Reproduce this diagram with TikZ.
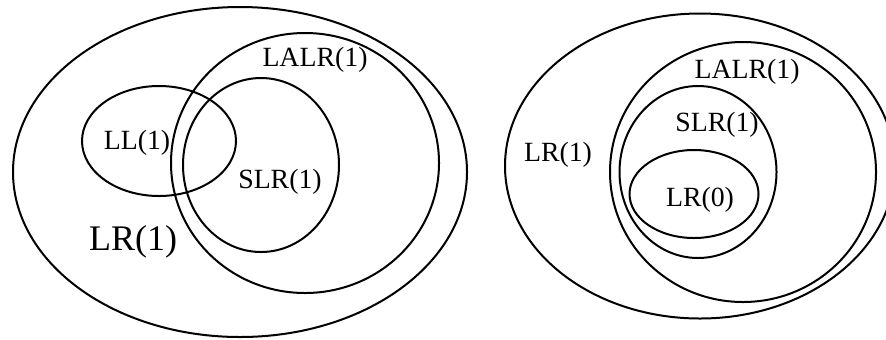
\documentclass[tikz,border=0pt]{standalone}
\usepackage{fontspec}
\setmainfont{Liberation Serif}
\usetikzlibrary{positioning,shapes.geometric}

\begin{document}
\begin{tikzpicture}
            [%%%%%%%%%%%%%%%%%%%%%%%%%%%%%%%%%%%%%%%%%%%%%%%%%%%%%%%%%%
                x=0.5pt,y=-0.5pt,
                langset/.style={ellipse,draw,line width=1pt,inner sep=0pt},
                langname/.style={inner sep=0pt,font=\fontsize{13.9}{16}\selectfont},
                langbig/.style={inner sep=0pt,font=\fontsize{18}{21}\selectfont}
            ]%%%%%%%%%%%%%%%%%%%%%%%%%%%%%%%%%%%%%%%%%%%%%%%%%%%%%%%%%%
            \useasboundingbox (0,0) rectangle (886,339);
            \clip (0,0) rectangle (886,339);
            % left: LL(1) against the LR family
            \node[langset,minimum width=227pt,minimum height=165pt] (lrA) at (240,172) {};
            \node[langset,minimum width=134pt,minimum height=130pt] (lalrA) at (305,163) {};
            \node[langset,minimum width=78pt,minimum height=87pt] (slrA) at (261,165) {};
            \node[langset,minimum width=77pt,minimum height=55pt] (llA) at (159,141) {};
            \node[langname] (lalrAtxt) at (315,60) {LALR(1)};
            \node[langname] (llAtxt) at (137,143) {LL(1)};
            \node[langname] (slrAtxt) at (280,182) {SLR(1)};
            \node[langbig] (lrAtxt) at (133,242) {LR(1)};
            % right: nested LR family
            \node[langset,minimum width=195pt,minimum height=152.5pt] (lrB) at (700,166) {};
            \node[langset,minimum width=133pt,minimum height=130pt] (lalrB) at (743,172) {};
            \node[langset,minimum width=78.5pt,minimum height=86pt] (slrB) at (698,172) {};
            \node[langset,minimum width=64.5pt,minimum height=44pt] (lrzB) at (694,194) {};
            \node[langname] (lalrBtxt) at (747,72) {LALR(1)};
            \node[langname] (slrBtxt) at (717,125) {SLR(1)};
            \node[langname] (lrBtxt) at (558,155) {LR(1)};
            \node[langname] (lrzBtxt) at (700,200) {LR(0)};
        \end{tikzpicture}
\end{document}
